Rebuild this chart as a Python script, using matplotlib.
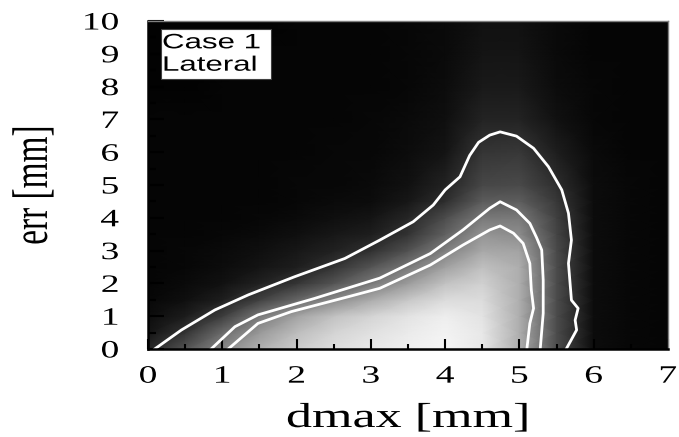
import numpy as np
import matplotlib
matplotlib.use("Agg")
import matplotlib.pyplot as plt
from matplotlib.patheffects import AbstractPathEffect
from matplotlib.transforms import Affine2D
from matplotlib.patches import Rectangle

# ---------------- data ----------------
dmax_grid = [0.0, 0.5, 1.0, 1.5, 2.0, 2.5, 3.0, 3.5, 4.0, 4.5, 5.0, 5.5, 6.0, 6.5, 7.0]
err_grid = [0.0, 0.5, 1.0, 1.5, 2.0, 2.5, 3.0, 3.5, 4.0, 4.5, 5.0, 6.0, 7.0, 8.0, 9.0, 10.0]
intensity = [
    [0.15, 0.33, 0.53, 0.69, 0.80, 0.87, 0.91, 0.94, 0.96, 0.91, 0.68, 0.30, 0.05, 0.03, 0.02],
    [0.08, 0.20, 0.42, 0.60, 0.74, 0.83, 0.88, 0.92, 0.95, 0.91, 0.68, 0.30, 0.05, 0.03, 0.02],
    [0.05, 0.11, 0.24, 0.47, 0.64, 0.76, 0.83, 0.89, 0.93, 0.89, 0.68, 0.30, 0.05, 0.03, 0.02],
    [0.03, 0.06, 0.12, 0.25, 0.40, 0.54, 0.67, 0.78, 0.86, 0.86, 0.68, 0.30, 0.05, 0.03, 0.02],
    [0.02, 0.04, 0.07, 0.13, 0.21, 0.33, 0.47, 0.61, 0.76, 0.82, 0.68, 0.30, 0.05, 0.03, 0.02],
    [0.02, 0.03, 0.05, 0.08, 0.12, 0.20, 0.33, 0.47, 0.63, 0.75, 0.68, 0.30, 0.05, 0.03, 0.02],
    [0.02, 0.03, 0.04, 0.06, 0.09, 0.13, 0.19, 0.32, 0.50, 0.66, 0.64, 0.29, 0.05, 0.03, 0.02],
    [0.02, 0.02, 0.03, 0.04, 0.06, 0.09, 0.12, 0.20, 0.38, 0.58, 0.55, 0.27, 0.05, 0.03, 0.02],
    [0.02, 0.02, 0.02, 0.03, 0.04, 0.06, 0.08, 0.15, 0.30, 0.47, 0.48, 0.25, 0.05, 0.03, 0.02],
    [0.02, 0.02, 0.02, 0.02, 0.03, 0.04, 0.05, 0.09, 0.18, 0.36, 0.37, 0.22, 0.05, 0.03, 0.02],
    [0.02, 0.02, 0.02, 0.02, 0.03, 0.03, 0.04, 0.07, 0.14, 0.28, 0.29, 0.18, 0.05, 0.03, 0.02],
    [0.02, 0.02, 0.02, 0.02, 0.02, 0.03, 0.03, 0.05, 0.08, 0.21, 0.22, 0.12, 0.04, 0.02, 0.02],
    [0.02, 0.02, 0.02, 0.02, 0.02, 0.02, 0.03, 0.04, 0.06, 0.14, 0.14, 0.07, 0.03, 0.02, 0.02],
    [0.01, 0.01, 0.02, 0.02, 0.02, 0.02, 0.02, 0.03, 0.05, 0.10, 0.10, 0.05, 0.03, 0.02, 0.02],
    [0.01, 0.01, 0.01, 0.02, 0.02, 0.02, 0.02, 0.03, 0.04, 0.08, 0.08, 0.04, 0.02, 0.02, 0.02],
    [0.01, 0.01, 0.01, 0.01, 0.02, 0.02, 0.02, 0.03, 0.04, 0.07, 0.07, 0.04, 0.02, 0.02, 0.02],
]

outer_x = [0.09, 0.45, 0.90, 1.35, 1.97, 2.65, 3.12, 3.57, 3.84, 4.00, 4.20, 4.33, 4.45, 4.60,
           4.74, 4.96, 5.19, 5.39, 5.57, 5.66, 5.70, 5.66, 5.70, 5.79, 5.75, 5.77, 5.63]
outer_y = [0.00, 0.58, 1.19, 1.65, 2.20, 2.76, 3.32, 3.88, 4.39, 4.85, 5.25, 5.90, 6.30, 6.52,
           6.62, 6.49, 6.12, 5.56, 4.85, 4.14, 3.32, 2.61, 1.49, 1.24, 0.88, 0.58, 0.00]

middle_x = [0.85, 1.17, 1.48, 2.24, 3.12, 3.80, 4.24, 4.60, 4.74, 4.96, 5.14, 5.23, 5.30,
            5.32, 5.32, 5.28]
middle_y = [0.00, 0.68, 1.04, 1.54, 2.16, 2.91, 3.63, 4.29, 4.49, 4.24, 3.83, 3.40, 3.02,
            2.10, 1.09, 0.00]

inner_x = [1.08, 1.48, 1.93, 2.69, 3.12, 3.80, 4.24, 4.60, 4.74, 4.92, 5.05, 5.14, 5.16,
           5.19, 5.14, 5.10]
inner_y = [0.00, 0.78, 1.14, 1.59, 1.85, 2.56, 3.17, 3.63, 3.75, 3.53, 3.22, 2.61, 1.80,
           1.24, 0.78, 0.00]

x_ticks = [0, 1, 2, 3, 4, 5, 6, 7]
y_ticks = [0, 1, 2, 3, 4, 5, 6, 7, 8, 9, 10]
x_label = "dmax [mm]"
y_label = "err [mm]"
box_lines = ["Case 1", "Lateral"]


# ------------- horizontal stretch of glyphs (text stays real text) -------------
class Stretch(AbstractPathEffect):
    def __init__(self, sx=1.0, sy=1.0, anchor="center"):
        super().__init__()
        self.sx, self.sy, self.anchor = sx, sy, anchor

    def draw_path(self, renderer, gc, tpath, affine, rgbFace=None):
        ext = tpath.get_extents()
        if self.anchor == "left":
            cx = 0.0
        elif self.anchor == "right":
            cx = ext.x1
        else:
            cx = 0.5 * (ext.x0 + ext.x1)
        cy = 0.5 * (ext.y0 + ext.y1)
        t = Affine2D().translate(-cx, -cy).scale(self.sx, self.sy).translate(cx, cy) + affine
        renderer.draw_path(gc, tpath, t, rgbFace)


W, H = 679, 437
fig = plt.figure(figsize=(W / 100, H / 100), dpi=100)
L, R, T, B = 148, 668, 21, 349
ax = fig.add_axes([L / W, 1 - B / H, (R - L) / W, (B - T) / H])

X, Y = np.meshgrid(dmax_grid, err_grid)
ax.pcolormesh(X, Y, np.array(intensity), shading="gouraud", cmap="gray", vmin=0, vmax=1,
              zorder=0)

for xs, ys in [(outer_x, outer_y), (middle_x, middle_y), (inner_x, inner_y)]:
    ax.plot(xs, ys, color="white", lw=2.0, solid_joinstyle="round", zorder=2)

ax.set_xlim(0, 7)
ax.set_ylim(0, 10)

ax.set_xticks(x_ticks)
ax.set_yticks(y_ticks)
ax.set_xticks(np.arange(0.5, 7, 1.0), minor=True)
ax.set_yticks(np.arange(0.5, 10, 1.0), minor=True)
ax.set_xticklabels([str(v) for v in x_ticks], family="Liberation Serif", fontsize=18)
ax.set_yticklabels([str(v) for v in y_ticks], family="Liberation Serif", fontsize=18)

ax.tick_params(axis="x", which="major", direction="in", length=7.2, width=1.5,
               color="black", pad=12, top=False)
ax.tick_params(axis="x", which="minor", direction="in", length=3.6, width=1.5,
               color="black", top=False)
ax.tick_params(axis="y", which="major", direction="in", length=11.5, width=1.5,
               color="black", pad=21, right=False)
ax.tick_params(axis="y", which="minor", direction="in", length=5.8, width=1.5,
               color="black", right=False)

for lab in ax.get_xticklabels():
    lab.set_path_effects([Stretch(sx=1.5, anchor="center")])
for lab in ax.get_yticklabels():
    lab.set_path_effects([Stretch(sx=1.5, anchor="right")])

ax.set_xlabel(x_label, family="Liberation Serif", fontsize=25)
ax.xaxis.label.set_va("baseline")
ax.xaxis.set_label_coords(0.5, -(427 - B) / (B - T))
ax.xaxis.label.set_path_effects([Stretch(sx=1.5)])

ax.set_ylabel(y_label, family="Liberation Serif", fontsize=24)
ax.yaxis.label.set_va("center")
ax.yaxis.set_label_coords((34 - L) / (R - L), 0.5)
ax.yaxis.label.set_path_effects([Stretch(sy=1.5)])

for side in ["left", "bottom"]:
    ax.spines[side].set_color("black")
    ax.spines[side].set_linewidth(1.8)
for side in ["top", "right"]:
    ax.spines[side].set_color("#808080")
    ax.spines[side].set_linewidth(1.0)

# annotation box
bx0, bx1 = (161 - L) / (R - L), (271 - L) / (R - L)
by0, by1 = (B - 79) / (B - T), (B - 29) / (B - T)
ax.add_patch(Rectangle((bx0, by0), bx1 - bx0, by1 - by0, transform=ax.transAxes,
                       facecolor="white", edgecolor="#404040", lw=0.8, zorder=5))
for line, base in zip(box_lines, [48.3, 70.7]):
    t = ax.text((162 - L) / (R - L), (B - base) / (B - T), line, transform=ax.transAxes,
                ha="left", va="baseline", family="Liberation Sans", fontsize=15,
                color="black", zorder=6)
    t.set_path_effects([Stretch(sx=1.5, anchor="left")])

fig.savefig("out.png", dpi=100)
